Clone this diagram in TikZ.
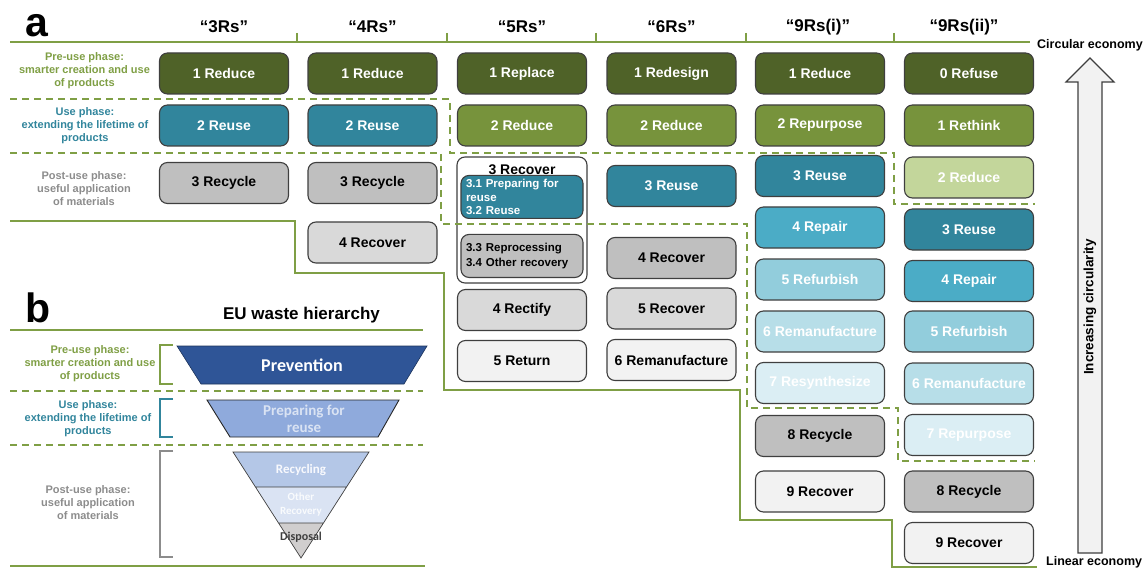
\documentclass[tikz,border=0pt]{standalone}
\usepackage{fontspec}
\setmainfont{Liberation Sans}
\newfontfamily\calfont{Carlito}
\usepackage{tikz}
\usetikzlibrary{calc}
\definecolor{olive50}{HTML}{4F6228}
\definecolor{olive25}{HTML}{77933C}
\definecolor{olive40}{HTML}{C3D69B}
\definecolor{aqua25}{HTML}{31859C}
\definecolor{aqua}{HTML}{4BACC6}
\definecolor{aqua40}{HTML}{92CDDC}
\definecolor{aqua60}{HTML}{B7DEE8}
\definecolor{aqua80}{HTML}{DBEEF4}
\definecolor{gray25}{HTML}{BFBFBF}
\definecolor{gray15}{HTML}{D9D9D9}
\definecolor{gray5}{HTML}{F2F2F2}
\definecolor{boxline}{HTML}{3F3F3F}
\definecolor{greenline}{HTML}{7F9F45}
\definecolor{postgray}{HTML}{8C8C8C}
\definecolor{prevblue}{HTML}{2F5597}
\definecolor{prepblue}{HTML}{8FAADC}
\definecolor{recyblue}{HTML}{B4C7E7}
\definecolor{otherblue}{HTML}{DAE3F3}
\definecolor{dispgray}{HTML}{D0CECE}
\newcommand{\rboxfont}{\fontsize{14}{16}\selectfont\bfseries}
\newcommand{\rsubfont}{\fontsize{11.5}{13.5}\selectfont\bfseries}
\newcommand{\rheadfont}{\fontsize{17}{20}\selectfont\bfseries}
\newcommand{\rphasefont}{\fontsize{11}{13}\selectfont\bfseries}
\newcommand{\rpanelfont}{\fontsize{41}{44}\selectfont\bfseries}
\tikzstyle{rNode}=[draw=boxline, line width=1.1pt, rounded corners=8pt, minimum width=129pt, minimum height=41pt, inner sep=0pt, font=\rboxfont]
\tikzstyle{preNode}=[rNode, fill=olive50, text=white]
\tikzstyle{pre2Node}=[rNode, fill=olive25, text=white]
\tikzstyle{pre3Node}=[rNode, fill=olive40, text=white]
\tikzstyle{useNode}=[rNode, fill=aqua25, text=white]
\tikzstyle{use2Node}=[rNode, fill=aqua, text=white]
\tikzstyle{use3Node}=[rNode, fill=aqua40, text=white]
\tikzstyle{use4Node}=[rNode, fill=aqua60, text=white]
\tikzstyle{use5Node}=[rNode, fill=aqua80, text=white]
\tikzstyle{postNode}=[rNode, fill=gray25, text=black]
\tikzstyle{post2Node}=[rNode, fill=gray15, text=black]
\tikzstyle{post3Node}=[rNode, fill=gray5, text=black]
\tikzstyle{header}=[font=\rheadfont, inner sep=0pt]
\tikzstyle{phaseText}=[align=center, font=\rphasefont, inner sep=0pt]
\tikzstyle{solidBorder}=[draw=greenline, line width=2pt]
\tikzstyle{dashBorder}=[draw=greenline, line width=1.6pt, dash pattern=on 7pt off 5pt]
\begin{document}
\begin{tikzpicture}[x=1pt, y=-1pt]
\useasboundingbox (0,0) rectangle (1147,569);

% panel a
\node (labelA) [anchor=base west, inner sep=0pt, font=\rpanelfont] at (25,37) {a};
\node (h3Rs) [header] at (224,27) {“3Rs”};
\node (h4Rs) [header] at (372.5,27) {“4Rs”};
\node (h5Rs) [header] at (522,27) {“5Rs”};
\node (h6Rs) [header] at (671.5,27) {“6Rs”};
\node (h9Rsi) [header] at (818,27) {“9Rs(i)”};
\node (h9Rsii) [header] at (964,27) {“9Rs(ii)”};
\draw[solidBorder] (10,42) -- (1030,42);
\draw[solidBorder] (297,33) -- (297,42) (447,33) -- (447,42) (596,33) -- (596,42) (746,33) -- (746,42) (894,33) -- (894,42);
\node (circular) [anchor=west, inner sep=0pt, font=\fontsize{12.5}{14}\selectfont\bfseries] at (1037,45) {Circular economy};
\node (linear) [anchor=south west, inner sep=0pt, font=\fontsize{12.5}{14}\selectfont\bfseries] at (1046,568.5) {Linear economy};

\node (preA) [phaseText, text=greenline] at (84.5,71) {Pre-use phase:\\smarter creation and use\\of products};
\node (useA) [phaseText, text=aqua25] at (85,125.5) {Use phase:\\extending the lifetime of\\products};
\node (postA) [phaseText, text=postgray] at (84,188.5) {Post-use phase:\\useful application\\of materials};

% 3Rs
\node (r3Reduce) [preNode] at (224,73.5) {1 Reduce};
\path (r3Reduce)+(0,52) node (r3Reuse) [useNode] {2 Reuse};
\path (r3Reuse)+(0,57.5) node (r3Recycle) [postNode] {3 Recycle};
% 4Rs
\node (r4Reduce) [preNode] at (372.5,73.5) {1 Reduce};
\path (r4Reduce)+(0,52) node (r4Reuse) [useNode] {2 Reuse};
\path (r4Reuse)+(0,57.5) node (r4Recycle) [postNode] {3 Recycle};
\path (r4Recycle)+(0,59.5) node (r4Recover) [post2Node] {4 Recover};
% 5Rs
\node (r5Replace) [preNode] at (522,73.5) {1 Replace};
\path (r5Replace)+(0,52) node (r5Reduce) [pre2Node] {2 Reduce};
\path (r5Reduce)+(0,94.5) node (r5Recover) [rNode, fill=white, minimum width=130pt, minimum height=126pt] {};
\path (r5Recover.north)+(0,13) node (r5RecoverTitle) [font=\rboxfont] {3 Recover};
\path (r5Recover.north)+(0,40.5) node (r5Prep) [useNode, minimum width=122pt, minimum height=43pt, text width=112pt, align=left, font=\rsubfont] {3.1 Preparing for\\reuse\\3.2 Reuse};
\path (r5Recover.north)+(0,99.5) node (r5Other) [postNode, minimum width=122pt, minimum height=43pt, text width=112pt, align=left, font=\fontsize{11.5}{15}\selectfont\bfseries] {3.3 Reprocessing\\3.4 Other recovery};
\path (r5Recover)+(0,90) node (r5Rectify) [post2Node] {4 Rectify};
\path (r5Rectify)+(0,51) node (r5Return) [post3Node] {5 Return};
% 6Rs
\node (r6Redesign) [preNode] at (671.5,73.5) {1 Redesign};
\path (r6Redesign)+(0,52) node (r6Reduce) [pre2Node] {2 Reduce};
\path (r6Reduce)+(0,60.5) node (r6Reuse) [useNode] {3 Reuse};
\path (r6Reuse)+(0,72) node (r6Recover) [postNode] {4 Recover};
\path (r6Recover)+(0,50.5) node (r6RecoverB) [post2Node] {5 Recover};
\path (r6RecoverB)+(0,51.5) node (r6Reman) [post3Node] {6 Remanufacture};
% 9Rs(i)
\node (r9iReduce) [preNode] at (820,73.5) {1 Reduce};
\path (r9iReduce)+(0,52) node (r9iRepurpose) [pre2Node] {2 Repurpose};
\path (r9iRepurpose)+(0,50.5) node (r9iReuse) [useNode] {3 Reuse};
\path (r9iReuse)+(0,51.5) node (r9iRepair) [use2Node] {4 Repair};
\path (r9iRepair)+(0,52) node (r9iRefurbish) [use3Node] {5 Refurbish};
\path (r9iRefurbish)+(0,52) node (r9iReman) [use4Node] {6 Remanufacture};
\path (r9iReman)+(0,51.5) node (r9iResynth) [use5Node] {7 Resynthesize};
\path (r9iResynth)+(0,53) node (r9iRecycle) [postNode] {8 Recycle};
\path (r9iRecycle)+(0,55.5) node (r9iRecover) [post3Node] {9 Recover};
% 9Rs(ii)
\node (r9iiRefuse) [preNode] at (969,73.5) {0 Refuse};
\path (r9iiRefuse)+(0,52) node (r9iiRethink) [pre2Node] {1 Rethink};
\path (r9iiRethink)+(0,52) node (r9iiReduce) [pre3Node] {2 Reduce};
\path (r9iiReduce)+(0,52) node (r9iiReuse) [useNode] {3 Reuse};
\path (r9iiReuse)+(0,51.5) node (r9iiRepair) [use2Node] {4 Repair};
\path (r9iiRepair)+(0,50.5) node (r9iiRefurbish) [use3Node] {5 Refurbish};
\path (r9iiRefurbish)+(0,52) node (r9iiReman) [use4Node] {6 Remanufacture};
\path (r9iiReman)+(0,51.5) node (r9iiRepurpose) [use5Node] {7 Repurpose};
\path (r9iiRepurpose)+(0,56.5) node (r9iiRecycle) [postNode] {8 Recycle};
\path (r9iiRecycle)+(0,51.5) node (r9iiRecover) [post3Node] {9 Recover};

% phase borders
\draw[dashBorder] (10,99) -- (450,99) -- (450,153) -- (894,153) -- (894,204) -- (1035,204);
\draw[dashBorder] (10,153) -- (441,153) -- (441,224) -- (747,224) -- (747,408) -- (898,408) -- (898,461) -- (1035,461);
\draw[solidBorder] (10,221) -- (295,221) -- (295,273) -- (444,273) -- (444,390) -- (740,390) -- (740,520) -- (892,520) -- (892,567) -- (1037,567);

% circularity arrow
\filldraw[fill=gray5, draw=boxline, line width=1.1pt] (1090,58) -- (1114,82) -- (1102,82) -- (1102,553) -- (1078,553) -- (1078,82) -- (1066,82) -- cycle;
\node (circText) [rotate=90, inner sep=0pt, font=\fontsize{13.5}{15}\selectfont\bfseries] at (1090,307) {Increasing circularity};

% panel b
\node (labelB) [anchor=base west, inner sep=0pt, font=\rpanelfont] at (25,322) {b};
\node (hEU) [header] at (301.5,315) {EU waste hierarchy};
\draw[solidBorder] (10,330) -- (423,330);
\draw[dashBorder] (10,391) -- (423,391);
\draw[dashBorder] (10,445) -- (423,445);
\draw[solidBorder] (10,566) -- (425,566);

\node (preB) [phaseText, text=greenline] at (90,364) {Pre-use phase:\\smarter creation and use\\of products};
\node (useB) [phaseText, text=aqua25] at (88,418.5) {Use phase:\\extending the lifetime of\\products};
\node (postB) [phaseText, text=postgray] at (88,503) {Post-use phase:\\useful application\\of materials};
\draw[draw=greenline, line width=1.6pt] (173,345) -- (160,345) -- (160,384) -- (173,384);
\draw[draw=aqua25, line width=1.6pt] (173,399) -- (160,399) -- (160,437) -- (173,437);
\draw[draw=postgray, line width=1.6pt] (173,451) -- (160,451) -- (160,557) -- (173,557);

% waste hierarchy
\filldraw[fill=prevblue, draw=prevblue!60!black, line width=0.6pt] (177,346) -- (427,346) -- (404,384) -- (201,384) -- cycle;
\filldraw[fill=prepblue, draw=black!85, line width=0.9pt] (207,400) -- (399,400) -- (378,437) -- (230,437) -- cycle;
\fill[fill=recyblue] (233,452) -- (369,452) -- (346.5,487) -- (255.5,487) -- cycle;
\fill[fill=otherblue] (255.5,487) -- (346.5,487) -- (323.5,523) -- (278.5,523) -- cycle;
\fill[fill=dispgray] (278.5,523) -- (323.5,523) -- (301,558) -- cycle;
\draw[draw=boxline, line width=0.7pt] (233,452) -- (369,452) -- (301,558) -- cycle (255.5,487) -- (346.5,487) (278.5,523) -- (323.5,523);
\node (prevText) [text=white, font=\calfont\fontsize{18}{20}\selectfont\bfseries] at (302,365) {Prevention};
\node (prepText) [text=otherblue, align=center, font=\calfont\fontsize{15}{17.5}\selectfont\bfseries] at (304,419) {Preparing for\\reuse};
\node (recyText) [text=white!90!recyblue, font=\calfont\fontsize{13}{15}\selectfont\bfseries] at (301,470) {Recycling};
\node (otherText) [text=white!85!otherblue, align=center, font=\calfont\fontsize{11}{13.5}\selectfont\bfseries] at (301,504.5) {Other\\Recovery};
\node (dispText) [text=boxline, font=\calfont\fontsize{12}{14}\selectfont\bfseries] at (301,537) {Disposal};
\end{tikzpicture}
\end{document}
